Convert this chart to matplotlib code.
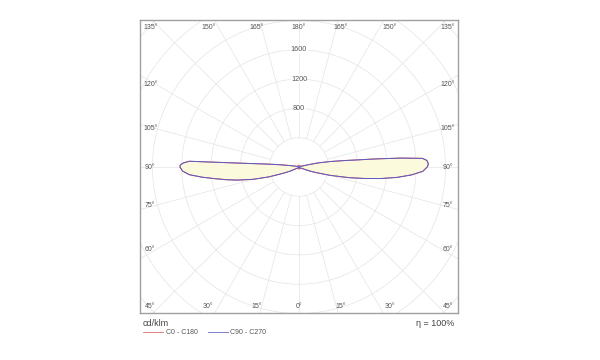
import matplotlib
matplotlib.use("Agg")
import matplotlib.pyplot as plt
from matplotlib.lines import Line2D
import numpy as np

plt.rcParams['font.family'] = ['Liberation Sans', 'DejaVu Sans']

# gamma angles (0 = straight down, 180 = straight up)
gamma = [0, 15, 30, 45, 55, 60, 65, 68, 70, 72, 75, 78, 80, 82, 84, 86, 88,
         90, 91, 92, 93, 94, 95, 96, 97, 98, 100, 102, 104, 106, 110, 120,
         135, 150, 165, 180]

# C90 (right half) and C270 (left half), cd/klm
c90 = [8, 8, 10, 12, 16, 25, 45, 100, 170, 250, 440, 700, 900, 1130, 1350,
       1540, 1690, 1750, 1765, 1760, 1745, 1690, 1400, 1060, 790, 640, 430,
       270, 130, 50, 20, 10, 8, 6, 5, 5]
c270 = [8, 8, 10, 12, 20, 40, 130, 215, 300, 440, 650, 860, 1000, 1150, 1330,
        1500, 1590, 1625, 1620, 1580, 1500, 700, 480, 340, 240, 170, 100, 60,
        40, 25, 15, 10, 8, 6, 5, 5]
# C0 (right) / C180 (left), nearly identical to the other plane
c0 = [25, 25, 25, 28, 30, 35, 50, 100, 170, 250, 440, 700, 900, 1130, 1350,
      1540, 1690, 1750, 1765, 1760, 1745, 1690, 1400, 1060, 790, 640, 430,
      270, 130, 50, 30, 25, 25, 25, 25, 25]
c180 = [25, 25, 25, 28, 30, 40, 130, 215, 300, 440, 650, 860, 1000, 1150, 1330,
        1500, 1590, 1625, 1620, 1580, 1500, 700, 480, 340, 240, 170, 100, 60,
        40, 30, 25, 25, 25, 25, 25, 25]

rings = [400, 800, 1200, 1600, 2000, 2400, 2800]
ring_labels = [800, 1200, 1600]
label_angles = list(range(0, 181, 15))


def curve(right, left):
    g = np.radians(gamma)
    r = np.array(right, float)
    l = np.array(left, float)
    x = np.concatenate([r * np.sin(g), -l[::-1] * np.sin(g[::-1])])
    y = np.concatenate([-r * np.cos(g), -l[::-1] * np.cos(g[::-1])])
    return x, y


fig = plt.figure(figsize=(6, 3.6), dpi=100)
ax = fig.add_axes([140 / 600, 47 / 360, 318 / 600, 293 / 360])
ax.set_xlim(-2170, 2170)
ax.set_ylim(-1993, 2007)
ax.set_xticks([])
ax.set_yticks([])
for s in ax.spines.values():
    s.set_color('#a0a0a0')
    s.set_linewidth(1.0)

grid_c = '#e4e4e4'
t = np.linspace(0, 2 * np.pi, 400)
for r in rings:
    ax.plot(r * np.cos(t), r * np.sin(t), color=grid_c, lw=0.5, zorder=1)
for a in range(0, 360, 15):
    th = np.radians(a)
    ax.plot([400 * np.sin(th), 3200 * np.sin(th)],
            [-400 * np.cos(th), -3200 * np.cos(th)],
            color=grid_c, lw=0.5, zorder=1)

for v in ring_labels:
    ax.text(0, v, str(v), ha='center', va='center', fontsize=5.2,
            color='#555555', zorder=2,
            bbox=dict(facecolor='white', edgecolor='none', pad=0.3))

# angle labels along the frame
for a in label_angles:
    th = np.radians(a)
    for sgn in ([1] if a in (0, 180) else [-1, 1]):
        if 45 < a < 135:
            x = sgn * 2030
            y = -2030 * np.cos(th) / np.sin(th) * 0.965
        else:
            yy = -1900 if a <= 45 else 1908
            x = sgn * min(2140 * abs(np.tan(th)), 2030)
            y = yy
        ax.text(x, y, f"{a}°", ha='center', va='center', fontsize=5,
                color='#555555', zorder=2)

xb, yb = curve(c90, c270)
ax.fill(xb, yb, color='#fcfadc', zorder=3)
xr, yr = curve(c0, c180)
ax.plot(xr, yr, color='#e05a5a', lw=0.7, zorder=4)
ax.plot(xb, yb, color='#5c5cc8', lw=0.7, zorder=5)

fig.text(143 / 600, 1 - 323 / 360, 'cd/klm', ha='left', va='center',
         fontsize=6.5, color='#444444')
fig.text(454 / 600, 1 - 323 / 360, 'η = 100%', ha='right', va='center',
         fontsize=6.5, color='#444444')
fig.lines.append(Line2D([143 / 600, 163 / 600], [1 - 332 / 360] * 2,
                        transform=fig.transFigure, color='#e88080', lw=0.7))
fig.text(166 / 600, 1 - 332 / 360, 'C0 - C180', ha='left', va='center',
         fontsize=5, color='#555555')
fig.lines.append(Line2D([208 / 600, 228 / 600], [1 - 332 / 360] * 2,
                        transform=fig.transFigure, color='#8080d8', lw=0.7))
fig.text(230 / 600, 1 - 332 / 360, 'C90 - C270', ha='left', va='center',
         fontsize=5, color='#555555')

fig.savefig('out.png', dpi=100)
